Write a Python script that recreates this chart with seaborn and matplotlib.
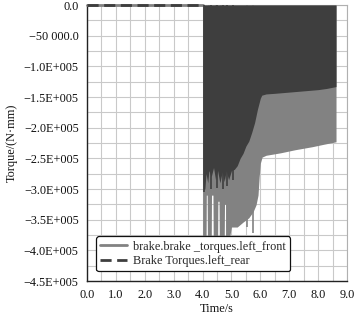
import numpy as np
import pandas as pd
import matplotlib
matplotlib.use("Agg")
import matplotlib.pyplot as plt
import seaborn as sns
from matplotlib.ticker import FixedLocator, MultipleLocator

# ---------------- data ----------------
series_names = ["brake.brake _torques.left_front", "Brake Torques.left_rear"]

# quiet phase (torque = 0) before braking starts
pre_t = [0.0, 4.02]
pre_v = [0.0, 0.0]

# left_front: oscillation band from 0 down to this lower envelope
front_t = [4.02, 4.12, 4.13, 4.16, 4.17, 4.30, 4.31, 4.36, 4.37, 4.52, 4.53, 4.57,
           4.58, 4.75, 4.76, 4.80, 4.81, 4.95, 5.00, 5.20, 5.40, 5.60, 5.75,
           5.85, 5.92, 5.96, 6.00, 6.06, 6.20, 6.70, 7.20, 7.80, 8.20, 8.62]
front_low = [-405000, -400000, -310000, -310000, -390000, -395000, -310000, -310000,
             -385000, -390000, -320000, -320000, -380000, -385000, -325000, -325000,
             -390000, -375000, -362000, -362000, -354000, -347000, -337000,
             -326000, -310000, -280000, -258000, -248000, -245000, -241000, -236000,
             -231000, -227000, -223000]
front_spike_t = [4.06, 4.22, 4.47, 4.65, 4.86, 5.55, 5.74]
front_spike_v = [-415000, -405000, -410000, -400000, -410000, -362000, -372000]

# left_rear: oscillation band from 0 down to this lower envelope
rear_t = [4.02, 4.03, 4.08, 4.12, 4.18, 4.22, 4.30, 4.38, 4.45, 4.52, 4.60, 4.68,
          4.75, 4.82, 4.90, 5.00, 5.10, 5.20, 5.30, 5.40, 5.50, 5.60, 5.70, 5.80,
          5.90, 6.00, 6.05, 6.20, 6.50, 7.00, 7.50, 8.00, 8.30, 8.62]
rear_low = [-290000, -300000, -300000, -275000, -290000, -270000, -280000, -265000,
            -285000, -270000, -290000, -272000, -288000, -270000, -285000, -270000,
            -268000, -262000, -250000, -242000, -230000, -222000, -208000, -192000,
            -170000, -152000, -147000, -145000, -144000, -142000, -140000, -138000,
            -136000, -133000]
rear_spike_t = [4.05, 4.28, 4.50, 4.70, 4.85, 5.05]
rear_spike_v = [-305000, -300000, -298000, -300000, -295000, -285000]

y_ticks = [0, -50000, -100000, -150000, -200000, -250000, -300000, -350000, -400000, -450000]
y_labels = ["0.0", "\u221250 000.0", "\u22121.0E+005", "\u22121.5E+005", "\u22122.0E+005",
            "\u22122.5E+005", "\u22123.0E+005", "\u22123.5E+005", "\u22124.0E+005", "\u22124.5E+005"]
x_ticks = [0, 1, 2, 3, 4, 5, 6, 7, 8, 9]
x_labels = ["0.0", "1.0", "2.0", "3.0", "4.0", "5.0", "6.0", "7.0", "8.0", "9.0"]

# ---------------- style ----------------
light = "#828282"
dark = "#3e3e3e"
sns.set_style("white")
plt.rcParams["font.family"] = ["Liberation Serif", "DejaVu Serif"]
fs = 8.8

fig = plt.figure(figsize=(3.54, 3.16), dpi=100)
ax = fig.add_axes([87 / 354, 1 - 281 / 316, 260 / 354, 276 / 316])

pre = pd.DataFrame({"t": pre_t, "v": pre_v})
sns.lineplot(data=pre, x="t", y="v", ax=ax, color=light, lw=2,
             label=series_names[0], zorder=3)
sns.lineplot(data=pre, x="t", y="v", ax=ax, color=dark, lw=2,
             linestyle=(0, (4, 2)), label=series_names[1], zorder=4)
for ln in ax.lines:
    ln.set_clip_on(False)

front = pd.DataFrame({"t": front_t, "low": front_low})
rear = pd.DataFrame({"t": rear_t, "low": rear_low})
ax.fill_between(front["t"], front["low"], 0, color=light, lw=0, zorder=3)
ax.vlines(front_spike_t, 0, front_spike_v, color=light, lw=1.2, zorder=3)
ax.fill_between(rear["t"], rear["low"], 0, color=dark, lw=0, zorder=4)
ax.vlines(rear_spike_t, 0, rear_spike_v, color=dark, lw=1.2, zorder=4)

ax.set_xlim(0, 9)
ax.set_ylim(-450000, 0)
ax.xaxis.set_major_locator(FixedLocator(x_ticks))
ax.set_xticklabels(x_labels, fontsize=fs)
ax.xaxis.set_minor_locator(MultipleLocator(0.5))
ax.yaxis.set_major_locator(FixedLocator(y_ticks))
ax.set_yticklabels(y_labels, fontsize=fs)
ax.yaxis.set_minor_locator(MultipleLocator(25000))

ax.tick_params(axis="both", which="major", direction="out", length=3.5, width=0.8,
               color="#222222", pad=2.5, labelcolor="#111111")
ax.tick_params(axis="y", which="minor", direction="out", length=3.5, width=0.8,
               color="#222222")
ax.tick_params(axis="x", which="minor", length=0)
ax.grid(True, which="both", color="#c9c9c9", lw=0.8, zorder=0)
ax.set_axisbelow(True)

for side in ["left", "bottom"]:
    ax.spines[side].set_color("#222222")
    ax.spines[side].set_linewidth(1.0)
for side in ["top", "right"]:
    ax.spines[side].set_color("#b0b0b0")
    ax.spines[side].set_linewidth(0.8)

ax.set_xlabel("Time/s", fontsize=fs, labelpad=1, color="#111111")
ax.set_ylabel("Torque/(N\u00b7mm)", fontsize=fs, labelpad=4, color="#111111")

leg = ax.legend(loc="lower left", bbox_to_anchor=(0.035, 0.035), fontsize=fs,
                frameon=True, fancybox=True, edgecolor="#111111", framealpha=1,
                handlelength=2.2, labelspacing=0.2, borderpad=0.35,
                handletextpad=0.5, borderaxespad=0)
leg.get_frame().set_linewidth(0.9)
leg.set_zorder(10)

fig.savefig("out.png", dpi=100)
